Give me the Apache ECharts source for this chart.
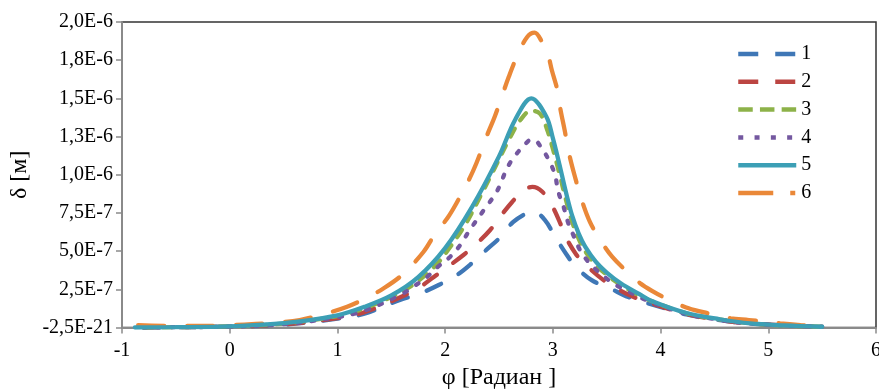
<!DOCTYPE html>
<html>
<head>
<meta charset="utf-8">
<script src="https://cdn.jsdelivr.net/npm/echarts@6/dist/echarts.min.js"></script>
<style>
html,body{margin:0;padding:0;background:#fff;}
#c{width:879px;height:390px;}
</style>
</head>
<body>
<div id="c"></div>
<script>
// values in units of 1e-6 m
const seriesNames = ['1','2','3','4','5','6'];
const yTickLabels = ['-2,5E-21','2,5E-7','5,0E-7','7,5E-7','1,0E-6','1,3E-6','1,5E-6','1,8E-6','2,0E-6'];
const xTickLabels = ['-1','0','1','2','3','4','5','6'];

const s1 = [[-0.8,0],[-0.5,0.002],[0,0.006],[0.5,0.019],[1.0,0.058],[1.25,0.09],[1.58,0.18],[1.77,0.224],[1.94,0.278],[2.11,0.344],[2.23,0.41],[2.37,0.50],[2.51,0.59],[2.63,0.69],[2.76,0.75],[2.82,0.76],[2.93,0.70],[3.02,0.595],[3.13,0.475],[3.21,0.40],[3.36,0.31],[3.53,0.257],[3.7,0.20],[3.95,0.145],[4.24,0.085],[4.55,0.048],[4.83,0.025],[5.5,0.005]];
const s2 = [[-0.8,0],[-0.5,0.002],[0,0.006],[0.5,0.02],[1.0,0.062],[1.25,0.10],[1.63,0.213],[1.77,0.267],[1.92,0.344],[2.03,0.40],[2.17,0.475],[2.28,0.54],[2.42,0.64],[2.51,0.725],[2.62,0.82],[2.73,0.90],[2.81,0.92],[2.9,0.89],[2.99,0.80],[3.07,0.68],[3.11,0.605],[3.22,0.475],[3.32,0.40],[3.47,0.31],[3.59,0.257],[3.75,0.20],[3.95,0.15],[4.24,0.088],[4.55,0.05],[4.83,0.026],[5.5,0.005]];
const s3 = [[-0.8,0],[-0.5,0.002],[0,0.007],[0.5,0.026],[1.0,0.075],[1.25,0.125],[1.5,0.20],[1.67,0.265],[1.89,0.39],[2.05,0.53],[2.2,0.69],[2.32,0.85],[2.45,1.03],[2.6,1.24],[2.7,1.36],[2.8,1.42],[2.88,1.40],[2.94,1.31],[3.0,1.17],[3.06,1.01],[3.12,0.84],[3.18,0.69],[3.24,0.58],[3.3,0.5],[3.4,0.41],[3.5,0.345],[3.63,0.28],[3.8,0.21],[4.0,0.15],[4.24,0.093],[4.55,0.053],[4.83,0.027],[5.15,0.013],[5.5,0.005]];
const s4 = [[-0.8,0],[-0.5,0.002],[0,0.006],[0.5,0.022],[1.0,0.068],[1.25,0.11],[1.6,0.22],[1.7,0.265],[1.83,0.33],[1.92,0.39],[2.05,0.465],[2.14,0.54],[2.23,0.64],[2.37,0.78],[2.48,0.89],[2.6,1.075],[2.77,1.22],[2.82,1.23],[2.9,1.17],[2.97,1.085],[3.02,1.0],[3.05,0.89],[3.1,0.79],[3.14,0.69],[3.19,0.605],[3.25,0.51],[3.33,0.43],[3.44,0.355],[3.56,0.29],[3.69,0.24],[3.9,0.17],[4.24,0.09],[4.55,0.05],[4.83,0.026],[5.5,0.005]];
const s5 = [[-0.88,0],[-0.5,0.002],[0,0.008],[0.5,0.028],[1.0,0.08],[1.25,0.135],[1.5,0.21],[1.75,0.33],[2.0,0.52],[2.25,0.79],[2.5,1.12],[2.65,1.36],[2.8,1.50],[2.94,1.38],[3.0,1.24],[3.06,1.07],[3.12,0.89],[3.18,0.73],[3.24,0.615],[3.3,0.53],[3.4,0.43],[3.5,0.36],[3.63,0.29],[3.8,0.22],[3.93,0.17],[4.24,0.095],[4.55,0.054],[4.83,0.027],[5.15,0.014],[5.5,0.005]];
const s6 = [[-0.85,0.016],[-0.52,0.01],[-0.14,0.01],[0.03,0.016],[0.24,0.023],[0.42,0.03],[0.65,0.049],[0.9,0.093],[1.09,0.136],[1.26,0.19],[1.43,0.257],[1.6,0.344],[1.8,0.496],[1.91,0.617],[2.02,0.715],[2.11,0.82],[2.22,0.966],[2.29,1.075],[2.39,1.26],[2.46,1.38],[2.53,1.52],[2.59,1.64],[2.67,1.78],[2.76,1.90],[2.83,1.93],[2.9,1.87],[2.95,1.80],[2.99,1.686],[3.04,1.56],[3.07,1.43],[3.11,1.29],[3.15,1.14],[3.2,1.0],[3.27,0.83],[3.345,0.69],[3.44,0.573],[3.55,0.464],[3.69,0.365],[3.81,0.29],[3.92,0.24],[4.08,0.18],[4.26,0.126],[4.44,0.093],[4.65,0.06],[4.82,0.049],[5.11,0.027],[5.3,0.016],[5.45,0.01]];

const seriesData = [s1, s2, s3, s4, s5, s6];
const colors = ['#3F77B6','#BC4542','#8DB249','#7458A0','#3C9FB5','#EA8838'];
const dashes = [[16,20],[16,20],[9,10],[3,11],'solid',[26,23]];
const legendDashes = [[20,17],[20,17],[14.5,7.2],[5,11.3],'solid',[35,17,5,8]];

const font = 'Liberation Serif';
const chart = echarts.init(document.getElementById('c'), null, {renderer:'canvas'});
chart.setOption({
  animation:false,
  backgroundColor:'#fff',
  grid:{left:122,right:3,top:22,bottom:62.5,show:true,borderColor:'#333',borderWidth:1.5,containLabel:false,outerBoundsMode:'none'},
  legend:{
    orient:'vertical',left:736,top:44,padding:0,
    itemWidth:58,itemHeight:14,itemGap:7.8,
    itemStyle:{opacity:0,color:'rgba(0,0,0,0)',borderWidth:0},
    data:seriesNames.map(function(n,i){
      return {name:n,lineStyle:{type:legendDashes[i],width:4.5,cap:'butt',color:colors[i]}};
    }),
    textStyle:{fontFamily:font,fontSize:20,color:'#000'}
  },
  xAxis:{
    type:'value',min:-1,max:6,interval:1,
    name:'φ [Радиан ]',nameLocation:'middle',nameGap:38,
    nameTextStyle:{fontFamily:font,fontSize:24,color:'#000'},
    axisLine:{show:true,onZero:false,lineStyle:{color:'#8a8a8a',width:2}},
    axisTick:{show:true,length:6,lineStyle:{color:'#8a8a8a',width:1.5}},
    splitLine:{show:false},
    axisLabel:{fontFamily:font,fontSize:20,color:'#000',margin:13,
      formatter:function(v){return xTickLabels[Math.round(v+1)];}}
  },
  yAxis:{
    type:'value',min:0,max:2,interval:0.25,
    name:'δ [м]',nameLocation:'middle',nameGap:88,nameRotate:90,
    nameTextStyle:{fontFamily:font,fontSize:24,color:'#000'},
    axisLine:{show:true,onZero:false,lineStyle:{color:'#8a8a8a',width:2}},
    axisTick:{show:true,length:6,lineStyle:{color:'#8a8a8a',width:1.5}},
    splitLine:{show:false},
    axisLabel:{fontFamily:font,fontSize:20,color:'#000',margin:9,
      formatter:function(v){return yTickLabels[Math.round(v/0.25)];}}
  },
  series: seriesNames.map(function(n,i){
    return {
      name:n,type:'line',data:seriesData[i],smooth:0.35,symbol:'none',
      z: i===4 ? 4 : 3,
      lineStyle:{color:colors[i],width:4.3,type:dashes[i],cap:'round'},
      itemStyle:{color:colors[i]}
    };
  })
});
</script>
</body>
</html>
